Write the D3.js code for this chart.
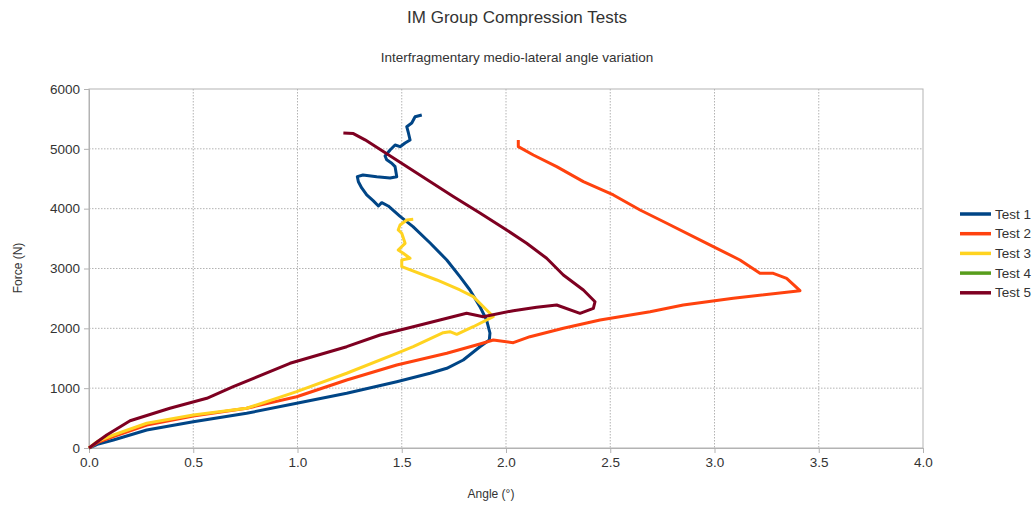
<!DOCTYPE html>
<html><head><meta charset="utf-8">
<script src="https://cdn.jsdelivr.net/npm/d3@7"></script>
<style>body{margin:0;background:#fff;font-family:"Liberation Sans",Arial,sans-serif;}</style>
</head><body><svg id="c" width="1036" height="506"></svg>
<script>
const seriesNames = ["Test 1","Test 2","Test 3","Test 4","Test 5"];
const seriesColors = ["#004586","#ff420e","#ffd320","#579d1c","#7e0021"];
const xTicks = [0,0.5,1,1.5,2,2.5,3,3.5,4];
const yTicks = [0,1000,2000,3000,4000,5000,6000];
const test1 = [[0,0],[0.04,60],[0.117,134],[0.277,301],[0.5,440],[0.756,580],[0.996,747],[1.236,914],[1.476,1108],[1.636,1249],[1.716,1332],[1.795,1471],[1.875,1693],[1.92,1805],[1.923,1922],[1.907,2139],[1.875,2362],[1.827,2641],[1.779,2863],[1.716,3142],[1.636,3426],[1.554,3699],[1.492,3870],[1.435,4045],[1.404,4100],[1.388,4045],[1.364,4130],[1.332,4229],[1.308,4346],[1.292,4451],[1.287,4535],[1.314,4563],[1.38,4535],[1.444,4513],[1.476,4535],[1.468,4702],[1.452,4760],[1.428,4817],[1.420,4880],[1.444,4981],[1.468,5064],[1.492,5036],[1.516,5098],[1.54,5148],[1.532,5265],[1.524,5370],[1.548,5432],[1.564,5537],[1.596,5566]];
const test2 = [[0,0],[0.04,90],[0.117,189],[0.277,384],[0.5,535],[0.756,664],[0.996,857],[1.236,1137],[1.476,1387],[1.716,1583],[1.875,1738],[1.939,1805],[2.035,1760],[2.115,1860],[2.275,2001],[2.451,2139],[2.691,2278],[2.85,2390],[3.09,2502],[3.41,2629],[3.346,2836],[3.282,2920],[3.218,2920],[3.122,3142],[2.963,3421],[2.771,3756],[2.643,3978],[2.515,4229],[2.371,4451],[2.243,4702],[2.131,4897],[2.059,5036],[2.059,5148]];
const test3 = [[0,0],[0.04,110],[0.117,217],[0.277,413],[0.5,552],[0.756,664],[0.996,941],[1.236,1249],[1.476,1583],[1.555,1693],[1.699,1927],[1.731,1944],[1.764,1900],[1.843,2027],[1.939,2195],[1.907,2307],[1.843,2529],[1.779,2641],[1.668,2808],[1.5,3030],[1.5,3142],[1.54,3171],[1.507,3254],[1.483,3309],[1.516,3421],[1.5,3589],[1.483,3644],[1.492,3727],[1.524,3811],[1.555,3822]];
const test4 = [];
const test5 = [[0,0],[0.04,105],[0.085,217],[0.197,455],[0.388,664],[0.565,831],[0.692,1025],[0.964,1416],[1.236,1693],[1.396,1889],[1.555,2027],[1.683,2139],[1.811,2251],[1.891,2195],[2.035,2295],[2.147,2352],[2.243,2390],[2.355,2251],[2.419,2335],[2.427,2445],[2.371,2641],[2.275,2892],[2.195,3171],[2.099,3421],[2.003,3644],[1.875,3929],[1.747,4204],[1.324,5150],[1.268,5255],[1.220,5265]];
const allSeries = [test1,test2,test3,test4,test5];

const svg = d3.select("#c");
const L=89, R=923, T=89, B=448;
const x = d3.scaleLinear().domain([0,4]).range([L,R]);
const y = d3.scaleLinear().domain([0,6000]).range([B,T]);
const grid = "#b3b3b3";

svg.append("g").selectAll("line").data(xTicks.slice(1,-1)).join("line")
  .attr("x1",d=>x(d)).attr("x2",d=>x(d)).attr("y1",T).attr("y2",B)
  .attr("stroke",grid).attr("stroke-dasharray","1.5,1.5");
svg.append("g").selectAll("line").data(yTicks.slice(1,-1)).join("line")
  .attr("y1",d=>y(d)).attr("y2",d=>y(d)).attr("x1",L).attr("x2",R)
  .attr("stroke",grid).attr("stroke-dasharray","1.5,1.5");
svg.append("rect").attr("x",L).attr("y",T).attr("width",R-L).attr("height",B-T)
  .attr("fill","none").attr("stroke",grid).attr("stroke-width",1);

const xAxis = svg.append("g").attr("transform",`translate(0,${B})`)
  .call(d3.axisBottom(x).tickValues(xTicks).tickFormat(d3.format(".1f")).tickSize(5).tickPadding(4));
const yAxis = svg.append("g").attr("transform",`translate(${L},0)`)
  .call(d3.axisLeft(y).tickValues(yTicks).tickFormat(d=>d).tickSize(5).tickPadding(4));
[xAxis,yAxis].forEach(a=>{
  a.select(".domain").attr("stroke",grid);
  a.selectAll(".tick line").attr("stroke",grid);
  a.selectAll("text").attr("font-family","Liberation Sans, Arial, sans-serif").attr("font-size",13.5).attr("fill","#333");
});

const line = d3.line().x(d=>x(d[0])).y(d=>y(d[1]));
allSeries.forEach((s,i)=>{
  if(!s.length) return;
  svg.append("path").datum(s).attr("d",line).attr("fill","none")
    .attr("stroke",seriesColors[i]).attr("stroke-width",3).attr("stroke-linejoin","round");
});

svg.append("text").attr("x",517).attr("y",23).attr("text-anchor","middle")
  .attr("font-size",17).attr("fill","#333").text("IM Group Compression Tests");
svg.append("text").attr("x",517).attr("y",62).attr("text-anchor","middle")
  .attr("font-size",13.5).attr("fill","#333").text("Interfragmentary medio-lateral angle variation");
svg.append("text").attr("transform","translate(22,268) rotate(-90)").attr("text-anchor","middle")
  .attr("font-size",12).attr("fill","#333").text("Force (N)");
svg.append("text").attr("x",491).attr("y",498).attr("text-anchor","middle")
  .attr("font-size",12).attr("fill","#333").text("Angle (°)");

const lg = svg.append("g");
seriesNames.forEach((n,i)=>{
  const yy = 214 + i*19.7;
  lg.append("line").attr("x1",960).attr("x2",991).attr("y1",yy).attr("y2",yy)
    .attr("stroke",seriesColors[i]).attr("stroke-width",3.5);
  lg.append("text").attr("x",995).attr("y",yy+4.5).attr("font-size",13.5).attr("fill","#333").text(n);
});
</script></body></html>
